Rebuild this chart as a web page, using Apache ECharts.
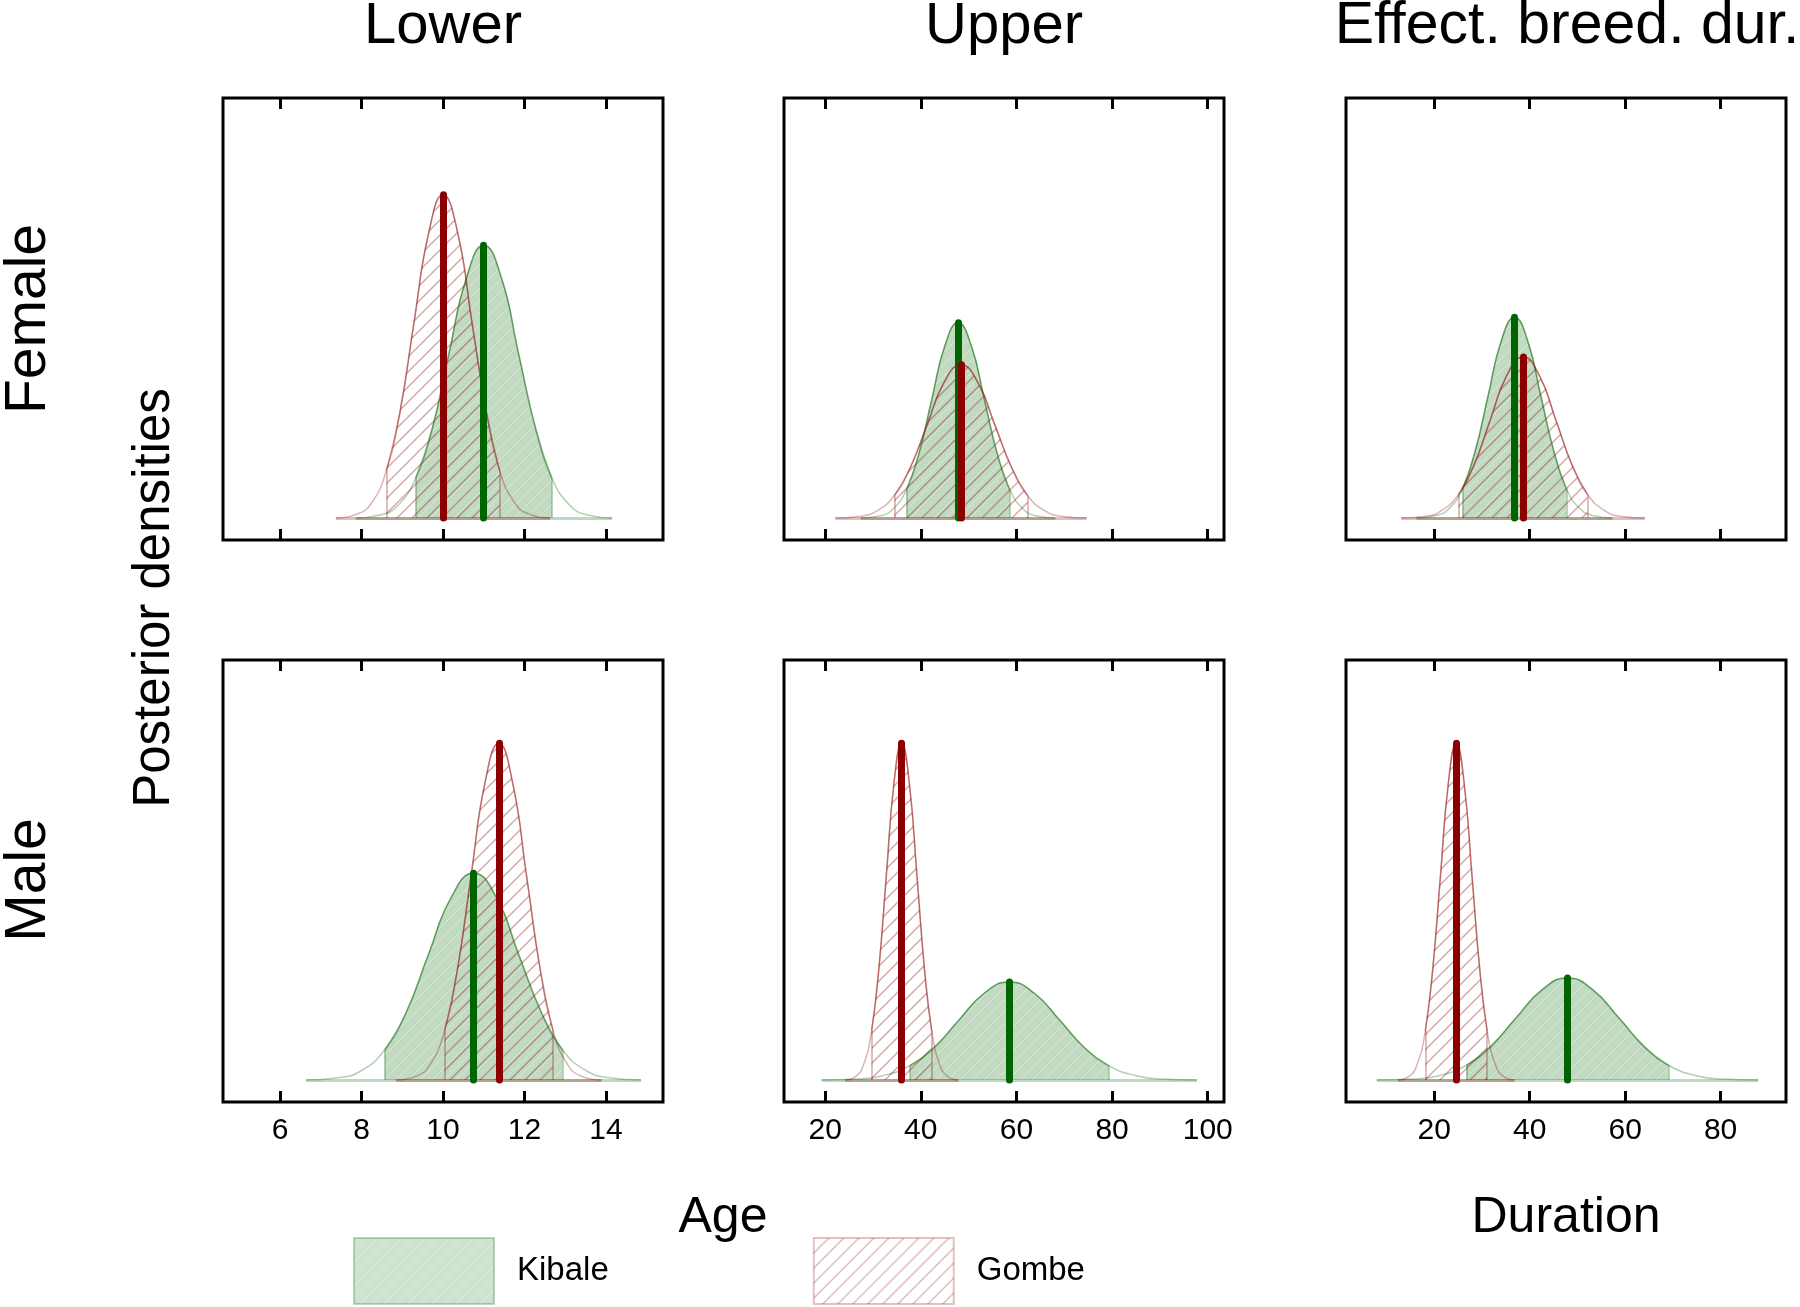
<!DOCTYPE html>
<html lang="en">
<head>
<meta charset="UTF-8">
<title>Posterior densities</title>
<script src="https://cdn.jsdelivr.net/npm/echarts@6/dist/echarts.min.js"></script>
<style>
    html, body { margin: 0; padding: 0; background: #fff; }
    #main { width: 1800px; height: 1307px; }
</style>
</head>
<body>
<div id="main"></div>
<script type="text/javascript">
// tick labels per column
var lowerTicks = [6, 8, 10, 12, 14];
var upperTicks = [20, 40, 60, 80, 100];
var durTicks = [20, 40, 60, 80];

// x range per column (Lower, Upper, Effect. breed. dur.)
var colMin = [4.6, 11.4, 1.5];
var colMax = [15.4, 103.4, 93.7];

// panel order: F lower, F upper, F dur, M lower, M upper, M dur
var kibaleMed = [11.0, 47.8, 36.8, 10.75, 58.5, 47.9];
var gombeMed = [10.0, 48.4, 38.6, 11.37, 36.0, 24.6];
// shaded interval
var kibaleLo = [9.33, 37.02, 25.92, 8.57, 37.72, 26.73];
var kibaleHi = [12.67, 58.58, 47.68, 12.93, 79.28, 69.07];
var gombeLo = [8.61, 34.48, 25.08, 10.04, 29.73, 18.13];
var gombeHi = [11.39, 62.32, 52.12, 12.7, 42.27, 31.07];

// density curves (x, relative height)
var fLowerKibaleX = [7.86, 8.45, 8.88, 9.33, 9.73, 10.15, 10.58, 11.0, 11.43, 11.85, 12.28, 12.67, 13.13, 13.55, 14.15];
var fLowerKibaleY = [0, 0.009, 0.036, 0.119, 0.263, 0.491, 0.715, 0.81, 0.715, 0.491, 0.263, 0.119, 0.036, 0.009, 0];
var fLowerGombeX = [7.37, 7.87, 8.23, 8.61, 8.94, 9.29, 9.65, 10.0, 10.36, 10.71, 11.07, 11.39, 11.78, 12.13, 12.63];
var fLowerGombeY = [0, 0.011, 0.042, 0.141, 0.312, 0.582, 0.847, 0.96, 0.847, 0.582, 0.312, 0.141, 0.042, 0.011, 0];

var fUpperKibaleX = [27.45, 31.3, 34.05, 37.02, 39.55, 42.3, 45.05, 47.8, 50.55, 53.3, 56.05, 58.58, 61.55, 64.3, 68.15];
var fUpperKibaleY = [0, 0.006, 0.025, 0.085, 0.188, 0.352, 0.512, 0.58, 0.512, 0.352, 0.188, 0.085, 0.025, 0.006, 0];
var fUpperGombeX = [22.13, 27.1, 30.65, 34.48, 37.75, 41.3, 44.85, 48.4, 51.95, 55.5, 59.05, 62.32, 66.15, 69.7, 74.67];
var fUpperGombeY = [0, 0.005, 0.02, 0.067, 0.148, 0.276, 0.402, 0.455, 0.402, 0.276, 0.148, 0.067, 0.02, 0.005, 0];

var fDurKibaleX = [16.26, 20.15, 22.93, 25.92, 28.48, 31.25, 34.03, 36.8, 39.58, 42.35, 45.13, 47.68, 50.68, 53.45, 57.34];
var fDurKibaleY = [0, 0.007, 0.026, 0.087, 0.194, 0.361, 0.526, 0.596, 0.526, 0.361, 0.194, 0.087, 0.026, 0.007, 0];
var fDurGombeX = [13.07, 17.9, 21.35, 25.08, 28.25, 31.7, 35.15, 38.6, 42.05, 45.5, 48.95, 52.12, 55.85, 59.3, 64.13];
var fDurGombeY = [0, 0.005, 0.021, 0.07, 0.155, 0.29, 0.422, 0.478, 0.422, 0.29, 0.155, 0.07, 0.021, 0.005, 0];

var mLowerKibaleX = [6.64, 7.42, 7.98, 8.57, 9.09, 9.64, 10.2, 10.75, 11.31, 11.86, 12.42, 12.93, 13.53, 14.08, 14.86];
var mLowerKibaleY = [0, 0.007, 0.027, 0.09, 0.199, 0.372, 0.542, 0.614, 0.542, 0.372, 0.199, 0.09, 0.027, 0.007, 0];
var mLowerGombeX = [8.85, 9.33, 9.67, 10.04, 10.35, 10.69, 11.03, 11.37, 11.71, 12.05, 12.39, 12.7, 13.07, 13.41, 13.89];
var mLowerGombeY = [0, 0.011, 0.044, 0.147, 0.325, 0.607, 0.882, 1.0, 0.882, 0.607, 0.325, 0.147, 0.044, 0.011, 0];

var mUpperKibaleX = [19.28, 26.7, 32.0, 37.72, 42.6, 47.9, 53.2, 58.5, 63.8, 69.1, 74.4, 79.28, 85.0, 90.3, 97.72];
var mUpperKibaleY = [0, 0.003, 0.013, 0.043, 0.094, 0.177, 0.257, 0.291, 0.257, 0.177, 0.094, 0.043, 0.013, 0.003, 0];
var mUpperGombeX = [24.16, 26.4, 28.0, 29.73, 31.2, 32.8, 34.4, 36.0, 37.6, 39.2, 40.8, 42.27, 44.0, 45.6, 47.84];
var mUpperGombeY = [0, 0.011, 0.044, 0.147, 0.325, 0.607, 0.882, 1.0, 0.882, 0.607, 0.325, 0.147, 0.044, 0.011, 0];

var mDurKibaleX = [7.94, 15.5, 20.9, 26.73, 31.7, 37.1, 42.5, 47.9, 53.3, 58.7, 64.1, 69.07, 74.9, 80.3, 87.86];
var mDurKibaleY = [0, 0.003, 0.013, 0.044, 0.098, 0.184, 0.267, 0.303, 0.267, 0.184, 0.098, 0.044, 0.013, 0.003, 0];
var mDurGombeX = [12.39, 14.7, 16.35, 18.13, 19.65, 21.3, 22.95, 24.6, 26.25, 27.9, 29.55, 31.07, 32.85, 34.5, 36.81];
var mDurGombeY = [0, 0.011, 0.044, 0.147, 0.325, 0.607, 0.882, 1.0, 0.882, 0.607, 0.325, 0.147, 0.044, 0.011, 0];

var FONT = '"Liberation Sans", Arial, Helvetica, sans-serif';

var kibaleCurves = [
    [fLowerKibaleX, fLowerKibaleY], [fUpperKibaleX, fUpperKibaleY], [fDurKibaleX, fDurKibaleY],
    [mLowerKibaleX, mLowerKibaleY], [mUpperKibaleX, mUpperKibaleY], [mDurKibaleX, mDurKibaleY]
];
var gombeCurves = [
    [fLowerGombeX, fLowerGombeY], [fUpperGombeX, fUpperGombeY], [fDurGombeX, fDurGombeY],
    [mLowerGombeX, mLowerGombeY], [mUpperGombeX, mUpperGombeY], [mDurGombeX, mDurGombeY]
];
var colTicks = [lowerTicks, upperTicks, durTicks];

// diagonal hatch pattern
function makeHatch(step, bg, line, lw) {
    var c = document.createElement('canvas');
    c.width = step; c.height = step;
    var ctx = c.getContext('2d');
    if (bg) {
        ctx.fillStyle = bg;
        ctx.fillRect(0, 0, step, step);
    }
    ctx.strokeStyle = line;
    ctx.lineWidth = lw;
    ctx.beginPath();
    ctx.moveTo(-1, step + 1); ctx.lineTo(step + 1, -1);
    ctx.moveTo(-1, 1); ctx.lineTo(1, -1);
    ctx.moveTo(step - 1, step + 1); ctx.lineTo(step + 1, step - 1);
    ctx.stroke();
    return c;
}
var greenPattern = { image: makeHatch(12, 'rgba(0,100,0,0.24)', 'rgba(255,255,255,0.35)', 1), repeat: 'repeat' };
var redPattern = { image: makeHatch(15, null, 'rgba(139,0,0,0.34)', 1.5), repeat: 'repeat' };

function toPts(xs, ys) {
    return xs.map(function (x, i) { return [x, ys[i]]; });
}
function inRange(pts, lo, hi) {
    return pts.filter(function (p) { return p[0] >= lo - 1e-6 && p[0] <= hi + 1e-6; });
}
function heightAt(xs, ys, x) {
    var i = xs.indexOf(x);
    if (i < 0) { i = ys.indexOf(Math.max.apply(null, ys)); }
    return ys[i];
}

var gridLeft = [223, 784, 1346];
var gridTop = [98, 660];

var grids = [], xAxes = [], yAxes = [], series = [];

// dummy series only for the legend
series.push({ name: 'Kibale', type: 'scatter', xAxisIndex: 0, yAxisIndex: 0, data: [],
    itemStyle: { color: greenPattern, borderColor: 'rgba(0,100,0,0.3)', borderWidth: 2 } });
series.push({ name: 'Gombe', type: 'scatter', xAxisIndex: 0, yAxisIndex: 0, data: [],
    itemStyle: { color: redPattern, borderColor: 'rgba(139,0,0,0.3)', borderWidth: 2 } });

function addDensity(p, curve, lo, hi, pattern, rgb) {
    var pts = toPts(curve[0], curve[1]);
    var inner = inRange(pts, lo, hi);
    var first = inner[0], last = inner[inner.length - 1];
    series.push({
        type: 'line', xAxisIndex: 2 * p, yAxisIndex: p, data: pts,
        smooth: 0.5, showSymbol: false, silent: true, z: 2,
        lineStyle: { color: 'rgba(' + rgb + ',0.3)', width: 1.5 }
    });
    series.push({
        type: 'line', xAxisIndex: 2 * p, yAxisIndex: p, data: inner,
        smooth: 0.5, showSymbol: false, silent: true, z: 2,
        lineStyle: { color: 'rgba(' + rgb + ',0.4)', width: 1.5 },
        areaStyle: { color: pattern, opacity: 1 }
    });
    series.push({
        type: 'lines', coordinateSystem: 'cartesian2d', xAxisIndex: 2 * p, yAxisIndex: p,
        silent: true, z: 2,
        lineStyle: { color: 'rgba(' + rgb + ',0.35)', width: 1.5, opacity: 1 },
        data: [
            { coords: [[pts[0][0], 0], [pts[pts.length - 1][0], 0]], lineStyle: { width: 3, color: 'rgba(' + rgb + ',0.25)' } },
            { coords: [[first[0], 0], first] },
            { coords: [[last[0], 0], last] }
        ]
    });
}

function addMedian(p, curve, med, color) {
    series.push({
        type: 'lines', coordinateSystem: 'cartesian2d', xAxisIndex: 2 * p, yAxisIndex: p,
        silent: true, z: 5,
        lineStyle: { color: color, width: 7, cap: 'round', opacity: 1 },
        data: [{ coords: [[med, 0], [med, heightAt(curve[0], curve[1], med)]] }]
    });
}

for (var p = 0; p < 6; p++) {
    var col = p % 3, row = Math.floor(p / 3);
    grids.push({
        left: gridLeft[col], top: gridTop[row], width: 440, height: 442,
        show: true, borderColor: '#000', borderWidth: 3, backgroundColor: 'transparent'
    });
    var tickStyle = { show: true, inside: true, length: 11, lineStyle: { color: '#000', width: 3 }, customValues: colTicks[col] };
    xAxes.push({
        gridIndex: p, type: 'value', position: 'bottom', min: colMin[col], max: colMax[col],
        axisLine: { show: false, onZero: false }, splitLine: { show: false },
        axisTick: tickStyle,
        axisLabel: { show: row === 1, customValues: colTicks[col], margin: 14, fontSize: 30, color: '#000', fontFamily: FONT }
    });
    xAxes.push({
        gridIndex: p, type: 'value', position: 'top', min: colMin[col], max: colMax[col],
        axisLine: { show: false, onZero: false }, splitLine: { show: false },
        axisTick: tickStyle,
        axisLabel: { show: false }
    });
    yAxes.push({ gridIndex: p, type: 'value', min: -0.065, max: 1.247, show: false });

    addDensity(p, kibaleCurves[p], kibaleLo[p], kibaleHi[p], greenPattern, '0,100,0');
    addDensity(p, gombeCurves[p], gombeLo[p], gombeHi[p], redPattern, '139,0,0');
    addMedian(p, kibaleCurves[p], kibaleMed[p], '#006400');
    addMedian(p, gombeCurves[p], gombeMed[p], '#8B0000');
}

function label(text, x, y, size, rot) {
    return {
        type: 'text', x: x, y: y, rotation: rot || 0, silent: true,
        style: { text: text, fontSize: size, fontFamily: FONT, fill: '#000', align: 'center', verticalAlign: 'middle' }
    };
}

var option = {
    animation: false,
    backgroundColor: '#fff',
    grid: grids,
    xAxis: xAxes,
    yAxis: yAxes,
    legend: {
        left: 353, top: 1237, padding: 0, icon: 'rect',
        itemWidth: 140, itemHeight: 66, itemGap: 204,
        selectedMode: false,
        textStyle: { fontSize: 33, fontFamily: FONT, color: '#000', padding: [0, 0, 0, 18] },
        data: ['Kibale', 'Gombe']
    },
    graphic: [
        label('Lower', 443, 27, 58),
        label('Upper', 1004, 27, 58),
        label('Effect. breed. dur.', 1567, 27, 59),
        label('Female', 29, 319, 57, Math.PI / 2),
        label('Male', 29, 880, 57, Math.PI / 2),
        label('Posterior densities', 155, 598, 51, Math.PI / 2),
        label('Age', 723, 1218, 50),
        label('Duration', 1566, 1218, 50)
    ],
    series: series
};

var myChart = echarts.init(document.getElementById('main'));
myChart.setOption(option);
</script>
</body>
</html>
